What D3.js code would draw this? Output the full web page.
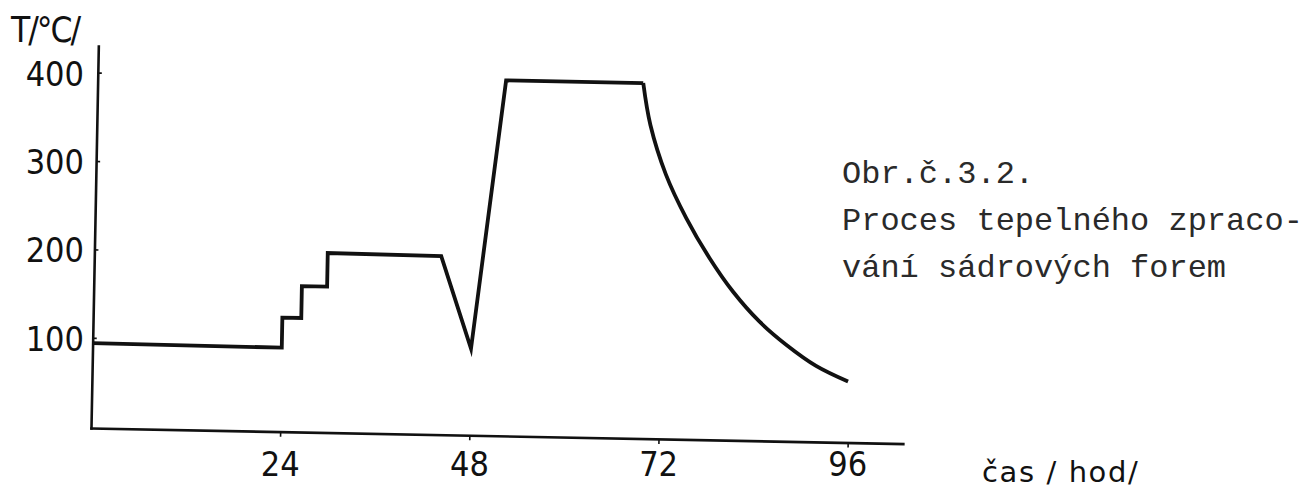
<!DOCTYPE html>
<html>
<head>
<meta charset="utf-8">
<script src="https://cdn.jsdelivr.net/npm/d3@7"></script>
<style>
  html, body { margin: 0; padding: 0; background: #fff; }
  svg { display: block; }
</style>
</head>
<body>
<svg id="chart" width="1310" height="490"></svg>
<script>
// ---- data ----
const xTicks = [24, 48, 72, 96];
const yTicks = [100, 200, 300, 400];
const xTickLabels = ["24", "48", "72", "96"];
const yTickLabels = ["100", "200", "300", "400"];

// heating / holding phases (hours, °C)
const rampHours = [0, 24, 24, 26.4, 26.4, 29.6, 29.6, 44, 48, 51.8, 69.2];
const rampTemps = [94, 93, 127, 127, 163, 163, 201, 200, 96, 400, 400];

// cooling phase (hours, °C)
const coolHours = [69.2, 70.2, 72.3, 75.0, 78.0, 81.1, 84.5, 88.0, 91.8, 95.9];
const coolTemps = [400, 353, 297, 248, 204, 166, 133, 107, 84, 67];

const yAxisTitle = "T/°C/";
const xAxisTitle = "čas / hod/";
const captionLines = ["Obr.č.3.2.", "Proces tepelného zpraco-", "vání sádrových forem"];

// ---- layout ----
const svg = d3.select("#chart");
svg.append("rect").attr("width", 1310).attr("height", 490).attr("fill", "#fff");

const origin = { x: 91, y: 428 };
const tilt = 1.1; // the scanned drawing is slightly rotated

const x = d3.scaleLinear().domain([0, 103]).range([0, 812]);
const y = d3.scaleLinear().domain([-2, 430]).range([0, -382]);

const plot = svg.append("g")
  .attr("transform", `translate(${origin.x},${origin.y}) rotate(${tilt})`);

const ink = "#111";

// axes
const xAxis = d3.axisBottom(x).tickValues(xTicks).tickSize(5).tickSizeOuter(0).tickFormat("");
const yAxis = d3.axisLeft(y).tickValues(yTicks).tickSize(-4).tickSizeOuter(0).tickFormat("");

const gx = plot.append("g").call(xAxis);
const gy = plot.append("g").call(yAxis);
[gx, gy].forEach(g => {
  g.select(".domain").attr("stroke", ink).attr("stroke-width", 2.6).attr("stroke-linecap", "square");
  g.selectAll(".tick line").attr("stroke", ink).attr("stroke-width", 1.6);
});

// data line
const lineLinear = d3.line().x(d => x(d[0])).y(d => y(d[1]));
const lineCurve = d3.line().x(d => x(d[0])).y(d => y(d[1])).curve(d3.curveCatmullRom.alpha(0.5));

plot.append("path")
  .datum(rampHours.map((h, i) => [h, rampTemps[i]]))
  .attr("d", lineLinear)
  .attr("fill", "none").attr("stroke", ink).attr("stroke-width", 3.8)
  .attr("stroke-linejoin", "miter").attr("stroke-miterlimit", 6);

plot.append("path")
  .datum(coolHours.map((h, i) => [h, coolTemps[i]]))
  .attr("d", lineCurve)
  .attr("fill", "none").attr("stroke", ink).attr("stroke-width", 3.8)
  .attr("stroke-linecap", "butt");

// tick labels (typed upright, not tilted)
const xl = d3.scaleLinear().domain([0, 103]).range([origin.x, origin.x + 812]);
const yl = d3.scaleLinear().domain([-2, 430]).range([origin.y, origin.y - 382]);
const labelFont = "'DejaVu Sans Condensed', 'DejaVu Sans', sans-serif";

svg.append("g").selectAll("text").data(xTicks).join("text")
  .attr("x", d => xl(d)).attr("y", 476)
  .attr("text-anchor", "middle")
  .attr("font-family", labelFont).attr("font-size", 34).attr("fill", ink)
  .text((d, i) => xTickLabels[i]);

svg.append("g").selectAll("text").data(yTicks).join("text")
  .attr("x", 84).attr("y", d => yl(d) + 13)
  .attr("text-anchor", "end")
  .attr("font-family", labelFont).attr("font-size", 34).attr("fill", ink)
  .text((d, i) => yTickLabels[i]);

// axis titles
svg.append("text").attr("x", 11).attr("y", 42)
  .attr("font-family", labelFont).attr("font-size", 35).attr("letter-spacing", -2).attr("fill", ink)
  .text(yAxisTitle);

svg.append("text").attr("x", 982).attr("y", 482)
  .attr("font-family", "'DejaVu Sans', sans-serif").attr("font-size", 29)
  .attr("letter-spacing", 1.6).attr("fill", ink)
  .text(xAxisTitle);

// caption (typewritten)
svg.append("g").selectAll("text").data(captionLines).join("text")
  .attr("x", 842).attr("y", (d, i) => 183 + i * 47)
  .attr("font-family", "'Liberation Mono', 'DejaVu Sans Mono', monospace")
  .attr("font-size", 32).attr("fill", "#2a2a2a")
  .text(d => d);
</script>
</body>
</html>
